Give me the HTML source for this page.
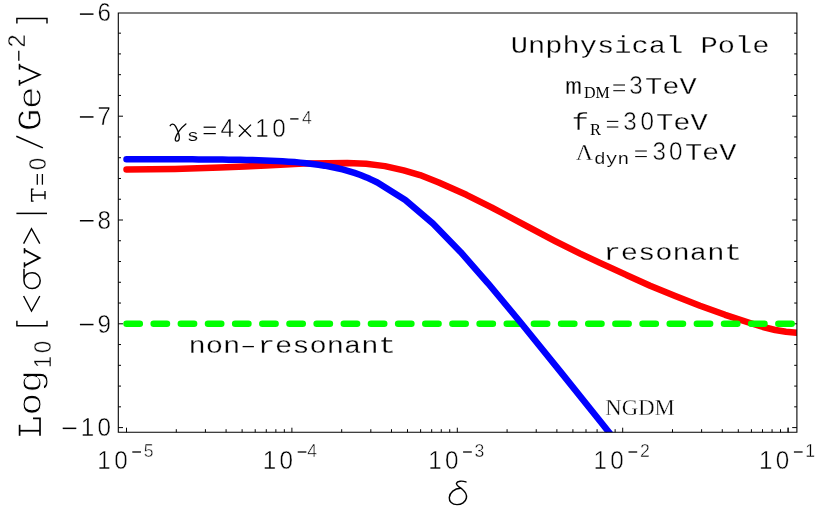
<!DOCTYPE html>
<html><head><meta charset="utf-8"><title>plot</title>
<style>html,body{margin:0;padding:0;background:#fff;overflow:hidden}svg{display:block}text{fill:#000}</style>
</head><body>
<svg width="830" height="513" viewBox="0 0 830 513">
<rect width="830" height="513" fill="#fff"/>
<g opacity="0.999">
<g stroke="#000" stroke-width="1.0" fill="none">
<path d="M118.30 33.16h2.70M796.90 33.16h-2.70M118.30 53.92h2.70M796.90 53.92h-2.70M118.30 74.68h2.70M796.90 74.68h-2.70M118.30 95.44h2.70M796.90 95.44h-2.70M118.30 116.20h4.70M796.90 116.20h-4.70M118.30 136.96h2.70M796.90 136.96h-2.70M118.30 157.72h2.70M796.90 157.72h-2.70M118.30 178.48h2.70M796.90 178.48h-2.70M118.30 199.24h2.70M796.90 199.24h-2.70M118.30 220.00h4.70M796.90 220.00h-4.70M118.30 240.76h2.70M796.90 240.76h-2.70M118.30 261.52h2.70M796.90 261.52h-2.70M118.30 282.28h2.70M796.90 282.28h-2.70M118.30 303.04h2.70M796.90 303.04h-2.70M118.30 323.80h4.70M796.90 323.80h-4.70M118.30 344.56h2.70M796.90 344.56h-2.70M118.30 365.32h2.70M796.90 365.32h-2.70M118.30 386.08h2.70M796.90 386.08h-2.70M118.30 406.84h2.70M796.90 406.84h-2.70M118.30 427.60h4.70M796.90 427.60h-4.70M126.50 432.30v-4.60M176.29 432.30v-3.10M205.42 432.30v-3.10M226.08 432.30v-3.10M242.11 432.30v-3.10M255.21 432.30v-3.10M266.28 432.30v-3.10M275.87 432.30v-3.10M284.33 432.30v-3.10M291.90 432.30v-4.60M341.69 432.30v-3.10M370.82 432.30v-3.10M391.48 432.30v-3.10M407.51 432.30v-3.10M420.61 432.30v-3.10M431.68 432.30v-3.10M441.27 432.30v-3.10M449.73 432.30v-3.10M457.30 432.30v-4.60M507.09 432.30v-3.10M536.22 432.30v-3.10M556.88 432.30v-3.10M572.91 432.30v-3.10M586.01 432.30v-3.10M597.08 432.30v-3.10M606.67 432.30v-3.10M615.13 432.30v-3.10M622.70 432.30v-4.60M672.49 432.30v-3.10M701.62 432.30v-3.10M722.28 432.30v-3.10M738.31 432.30v-3.10M751.41 432.30v-3.10M762.48 432.30v-3.10M772.07 432.30v-3.10M780.53 432.30v-3.10M788.10 432.30v-4.60M837.89 432.30v-3.10M867.02 432.30v-3.10M887.68 432.30v-3.10M903.71 432.30v-3.10M916.81 432.30v-3.10M927.88 432.30v-3.10M937.47 432.30v-3.10M945.93 432.30v-3.10M788.10 432.30v-4.6"/>
</g>
<clipPath id="cp"><rect x="118.30" y="13.00" width="678.60" height="419.30"/></clipPath>
<g clip-path="url(#cp)" fill="none" stroke-linecap="round" stroke-linejoin="round" stroke-width="6.5">
<polyline stroke="#f00" points="126.50,169.40 175.00,168.95 220.00,167.60 245.00,166.45 266.00,165.40 285.00,164.40 303.70,163.60 328.50,163.15 347.30,163.05 366.10,163.70 384.90,166.10 403.70,170.40 420.00,175.10 438.80,182.56 466.40,194.80 491.50,207.30 505.00,214.50 530.10,227.90 555.10,241.05 580.20,253.60 600.00,262.90 625.10,274.40 650.10,285.70 675.20,296.05 700.00,305.70 725.10,314.80 750.10,323.00 763.00,327.00 775.20,330.00 786.00,331.70 796.50,332.80 803.00,333.40"/>
<path stroke="#0f0" stroke-dasharray="13.3 13.86" d="M126.50 323.70 H796.90"/>
<polyline stroke="#00f" points="126.50,159.20 132.50,159.21 138.50,159.21 144.50,159.22 150.50,159.23 156.50,159.24 162.50,159.25 168.50,159.26 174.50,159.28 180.50,159.30 186.50,159.32 192.50,159.35 198.50,159.38 204.50,159.42 210.50,159.46 216.50,159.52 222.50,159.58 228.50,159.65 234.50,159.74 240.50,159.84 246.50,159.96 252.50,160.10 258.50,160.27 264.50,160.47 270.50,160.70 276.50,160.97 282.50,161.29 288.50,161.67 294.50,162.10 300.50,162.62 306.50,163.22 312.50,163.91 318.50,164.73 324.50,165.67 330.50,166.75 336.50,168.00 342.50,169.44 348.50,171.08 354.50,172.94 360.50,175.05 366.50,177.42 377.40,182.44 405.30,199.92 432.90,223.53 460.50,251.96 488.00,283.29 520.00,321.72 560.00,371.10 600.00,421.03 640.00,471.14"/>
</g>
<path stroke="#000" stroke-width="1.1" fill="none" d="M118.30 13.00 V432.30 H796.90 V13.00 Z"/>
<text transform="translate(104.30,21.15) scale(0.970,1.000)" font-family="'Liberation Sans', sans-serif" font-size="25.00" text-anchor="middle" stroke="#fff" stroke-width="0.45">6</text>
<path stroke="#000" stroke-width="1.50" fill="none" d="M79.90 14.10H93.50"/>
<text transform="translate(104.30,124.95) scale(0.970,1.000)" font-family="'Liberation Sans', sans-serif" font-size="25.00" text-anchor="middle" stroke="#fff" stroke-width="0.45">7</text>
<path stroke="#000" stroke-width="1.50" fill="none" d="M79.90 116.95H93.50"/>
<text transform="translate(104.30,228.75) scale(0.970,1.000)" font-family="'Liberation Sans', sans-serif" font-size="25.00" text-anchor="middle" stroke="#fff" stroke-width="0.45">8</text>
<path stroke="#000" stroke-width="1.50" fill="none" d="M79.90 220.75H93.50"/>
<text transform="translate(104.30,332.55) scale(0.970,1.000)" font-family="'Liberation Sans', sans-serif" font-size="25.00" text-anchor="middle" stroke="#fff" stroke-width="0.45">9</text>
<path stroke="#000" stroke-width="1.50" fill="none" d="M79.90 324.55H93.50"/>
<text transform="translate(104.30,436.35) scale(0.970,1.000)" font-family="'Liberation Sans', sans-serif" font-size="25.00" text-anchor="middle" stroke="#fff" stroke-width="0.45">0</text>
<text transform="translate(87.60,436.35) scale(0.970,1.000)" font-family="'Liberation Sans', sans-serif" font-size="25.00" text-anchor="middle" stroke="#fff" stroke-width="0.45">1</text>
<path stroke="#000" stroke-width="1.50" fill="none" d="M62.70 428.35H76.30"/>
<text transform="translate(104.10,468.80) scale(0.970,1.000)" font-family="'Liberation Sans', sans-serif" font-size="25.00" text-anchor="middle" stroke="#fff" stroke-width="0.45">1</text>
<text transform="translate(120.90,468.80) scale(0.970,1.000)" font-family="'Liberation Sans', sans-serif" font-size="25.00" text-anchor="middle" stroke="#fff" stroke-width="0.45">0</text>
<path stroke="#000" stroke-width="1.30" fill="none" d="M132.30 452.00H141.00"/>
<text transform="translate(148.60,457.20) scale(0.970,1.000)" font-family="'Liberation Sans', sans-serif" font-size="18.20" text-anchor="middle" stroke="#fff" stroke-width="0.45">5</text>
<text transform="translate(269.50,468.80) scale(0.970,1.000)" font-family="'Liberation Sans', sans-serif" font-size="25.00" text-anchor="middle" stroke="#fff" stroke-width="0.45">1</text>
<text transform="translate(286.30,468.80) scale(0.970,1.000)" font-family="'Liberation Sans', sans-serif" font-size="25.00" text-anchor="middle" stroke="#fff" stroke-width="0.45">0</text>
<path stroke="#000" stroke-width="1.30" fill="none" d="M297.70 452.00H306.40"/>
<text transform="translate(312.10,457.20) scale(0.970,1.000)" font-family="'Liberation Sans', sans-serif" font-size="18.20" text-anchor="middle" stroke="#fff" stroke-width="0.45">4</text>
<text transform="translate(434.90,468.80) scale(0.970,1.000)" font-family="'Liberation Sans', sans-serif" font-size="25.00" text-anchor="middle" stroke="#fff" stroke-width="0.45">1</text>
<text transform="translate(451.70,468.80) scale(0.970,1.000)" font-family="'Liberation Sans', sans-serif" font-size="25.00" text-anchor="middle" stroke="#fff" stroke-width="0.45">0</text>
<path stroke="#000" stroke-width="1.30" fill="none" d="M463.10 452.00H471.80"/>
<text transform="translate(479.40,457.20) scale(0.970,1.000)" font-family="'Liberation Sans', sans-serif" font-size="18.20" text-anchor="middle" stroke="#fff" stroke-width="0.45">3</text>
<text transform="translate(600.30,468.80) scale(0.970,1.000)" font-family="'Liberation Sans', sans-serif" font-size="25.00" text-anchor="middle" stroke="#fff" stroke-width="0.45">1</text>
<text transform="translate(617.10,468.80) scale(0.970,1.000)" font-family="'Liberation Sans', sans-serif" font-size="25.00" text-anchor="middle" stroke="#fff" stroke-width="0.45">0</text>
<path stroke="#000" stroke-width="1.30" fill="none" d="M628.50 452.00H637.20"/>
<text transform="translate(644.80,457.20) scale(0.970,1.000)" font-family="'Liberation Sans', sans-serif" font-size="18.20" text-anchor="middle" stroke="#fff" stroke-width="0.45">2</text>
<text transform="translate(765.70,468.80) scale(0.970,1.000)" font-family="'Liberation Sans', sans-serif" font-size="25.00" text-anchor="middle" stroke="#fff" stroke-width="0.45">1</text>
<text transform="translate(782.50,468.80) scale(0.970,1.000)" font-family="'Liberation Sans', sans-serif" font-size="25.00" text-anchor="middle" stroke="#fff" stroke-width="0.45">0</text>
<path stroke="#000" stroke-width="1.30" fill="none" d="M793.90 452.00H802.60"/>
<text transform="translate(810.20,457.20) scale(0.970,1.000)" font-family="'Liberation Sans', sans-serif" font-size="18.20" text-anchor="middle" stroke="#fff" stroke-width="0.45">1</text>
<path fill="none" stroke="#000" stroke-width="1.45" stroke-linecap="round" d="M465.9,481.9 C462,480.5 457.3,481.0 456.5,483.2 C455.8,485.2 459.5,487 462.5,489.5 C465.5,492 467,495 466.4,498 C465.6,502 461.5,504.6 457,504.6 C452,504.6 449,501.5 449.3,497.5 C449.7,492.5 454.5,488.6 460.4,488.3"/>
<text transform="translate(510.80,52.80) scale(1.000,0.840)" font-family="'Liberation Mono', monospace" font-size="28.75" text-anchor="start" stroke="#fff" stroke-width="0.30">Unphysical Pole</text>
<text transform="translate(188.55,352.80) scale(1.000,0.840)" font-family="'Liberation Mono', monospace" font-size="28.80" text-anchor="start" stroke="#fff" stroke-width="0.30">non resonant</text>
<path stroke="#000" stroke-width="1.30" fill="none" d="M242.60 346.60H253.90"/>
<text transform="translate(603.50,259.80) scale(1.000,0.840)" font-family="'Liberation Mono', monospace" font-size="28.80" text-anchor="start" stroke="#fff" stroke-width="0.30">resonant</text>
<text transform="translate(605.30,415.10) scale(0.948,1.000)" font-family="'Liberation Serif', serif" font-size="24.00" text-anchor="start" stroke="#fff" stroke-width="0.35">NGDM</text>
<path fill="none" stroke="#000" stroke-width="1.3" stroke-linecap="round" d="M170.2,125.7 C171.4,123.7 174.0,123.5 175.6,126.4 C177.6,130 179.3,134 179.3,137.6 C179.3,140.1 178.1,141.2 176.9,141.2 C175.4,141.2 174.8,139.7 175.6,137.6 C177.5,132.5 181.5,127.5 185.9,124.0"/>
<text transform="translate(192.80,141.40) scale(1.000,0.840)" font-family="'Liberation Mono', monospace" font-size="20.50" text-anchor="middle" stroke="#fff" stroke-width="0.15">s</text>
<path stroke="#000" stroke-width="1.25" fill="none" d="M203.60 127.20H215.80"/>
<path stroke="#000" stroke-width="1.25" fill="none" d="M203.60 133.60H215.80"/>
<text transform="translate(227.20,137.20) scale(0.970,1.000)" font-family="'Liberation Sans', sans-serif" font-size="25.00" text-anchor="middle" stroke="#fff" stroke-width="0.45">4</text>
<path fill="none" stroke="#000" stroke-width="1.3" d="M238.9,124.6L251.0,136.8M251.0,124.6L238.9,136.8"/>
<text transform="translate(262.00,137.20) scale(0.970,1.000)" font-family="'Liberation Sans', sans-serif" font-size="25.00" text-anchor="middle" stroke="#fff" stroke-width="0.45">1</text>
<text transform="translate(279.00,137.20) scale(0.970,1.000)" font-family="'Liberation Sans', sans-serif" font-size="25.00" text-anchor="middle" stroke="#fff" stroke-width="0.45">0</text>
<path stroke="#000" stroke-width="1.30" fill="none" d="M290.20 118.90H298.50"/>
<text transform="translate(307.00,123.90) scale(0.970,1.000)" font-family="'Liberation Sans', sans-serif" font-size="18.20" text-anchor="middle" stroke="#fff" stroke-width="0.45">4</text>
<text transform="translate(565.00,93.90) scale(1.000,0.840)" font-family="'Liberation Mono', monospace" font-size="28.60" text-anchor="start" stroke="#fff" stroke-width="0.30">m</text>
<text transform="translate(584.00,98.20)" font-family="'Liberation Serif', serif" font-size="16.00" text-anchor="start">DM</text>
<path stroke="#000" stroke-width="1.05" fill="none" d="M613.30 85.00H625.00"/>
<path stroke="#000" stroke-width="1.05" fill="none" d="M613.30 90.70H625.00"/>
<text transform="translate(635.90,93.90) scale(0.970,1.000)" font-family="'Liberation Sans', sans-serif" font-size="25.00" text-anchor="middle" stroke="#fff" stroke-width="0.45">3</text>
<text transform="translate(645.10,93.90) scale(1.000,0.840)" font-family="'Liberation Mono', monospace" font-size="28.70" text-anchor="start" stroke="#fff" stroke-width="0.30">TeV</text>
<text transform="translate(571.80,130.20) scale(1.000,0.840)" font-family="'Liberation Mono', monospace" font-size="28.60" text-anchor="start" stroke="#fff" stroke-width="0.30">f</text>
<text transform="translate(590.00,134.60)" font-family="'Liberation Serif', serif" font-size="16.50" text-anchor="start">R</text>
<path stroke="#000" stroke-width="1.05" fill="none" d="M606.90 121.37H618.30"/>
<path stroke="#000" stroke-width="1.05" fill="none" d="M606.90 127.02H618.30"/>
<text transform="translate(629.95,130.20) scale(0.970,1.000)" font-family="'Liberation Sans', sans-serif" font-size="25.00" text-anchor="middle" stroke="#fff" stroke-width="0.45">3</text>
<text transform="translate(647.35,130.20) scale(0.970,1.000)" font-family="'Liberation Sans', sans-serif" font-size="25.00" text-anchor="middle" stroke="#fff" stroke-width="0.45">0</text>
<text transform="translate(656.00,130.20) scale(1.000,0.840)" font-family="'Liberation Mono', monospace" font-size="28.70" text-anchor="start" stroke="#fff" stroke-width="0.30">TeV</text>
<text transform="translate(584.40,159.70)" font-family="'Liberation Serif', serif" font-size="24.00" text-anchor="middle" stroke="#fff" stroke-width="0.3">Λ</text>
<text transform="translate(594.00,164.40) scale(1.000,0.840)" font-family="'Liberation Mono', monospace" font-size="19.50" text-anchor="start" stroke="#fff" stroke-width="0.15">dyn</text>
<path stroke="#000" stroke-width="1.05" fill="none" d="M635.20 151.02H646.80"/>
<path stroke="#000" stroke-width="1.05" fill="none" d="M635.20 156.57H646.80"/>
<text transform="translate(659.25,159.70) scale(0.970,1.000)" font-family="'Liberation Sans', sans-serif" font-size="25.00" text-anchor="middle" stroke="#fff" stroke-width="0.45">3</text>
<text transform="translate(675.75,159.70) scale(0.970,1.000)" font-family="'Liberation Sans', sans-serif" font-size="25.00" text-anchor="middle" stroke="#fff" stroke-width="0.45">0</text>
<text transform="translate(684.90,159.70) scale(1.000,0.840)" font-family="'Liberation Mono', monospace" font-size="28.70" text-anchor="start" stroke="#fff" stroke-width="0.30">TeV</text>
<polyline fill="none" stroke="#000" stroke-width="1.70" stroke-linecap="butt" stroke-linejoin="miter" points="19.60,424.80 19.60,435.80"/>
<polyline fill="none" stroke="#000" stroke-width="1.80" stroke-linecap="butt" stroke-linejoin="miter" points="19.00,430.75 40.00,430.75"/>
<polyline fill="none" stroke="#000" stroke-width="1.70" stroke-linecap="butt" stroke-linejoin="miter" points="33.00,418.30 40.00,418.30 40.00,435.80"/>
<text transform="translate(40.90,404.10) rotate(-90) scale(1.000,0.860)" font-family="'Liberation Mono', monospace" font-size="38.50" text-anchor="middle" stroke="#fff" stroke-width="1.1">o</text>
<text transform="translate(40.90,381.40) rotate(-90) scale(1.000,0.860)" font-family="'Liberation Mono', monospace" font-size="38.50" text-anchor="middle" stroke="#fff" stroke-width="1.1">g</text>
<text transform="translate(51.10,362.00) rotate(-90) scale(0.880,1.000)" font-family="'Liberation Sans', sans-serif" font-size="24.60" text-anchor="middle" stroke="#fff" stroke-width="0.45">1</text>
<text transform="translate(51.10,347.10) rotate(-90) scale(0.880,1.000)" font-family="'Liberation Sans', sans-serif" font-size="24.60" text-anchor="middle" stroke="#fff" stroke-width="0.45">0</text>
<polyline fill="none" stroke="#000" stroke-width="1.45" stroke-linecap="butt" stroke-linejoin="miter" points="47.00,320.70 47.00,325.70 16.90,325.70 16.90,320.70"/>
<polyline fill="none" stroke="#000" stroke-width="1.40" stroke-linecap="butt" stroke-linejoin="miter" points="23.60,296.00 31.50,311.10 39.80,296.00"/>
<path transform="translate(40.6,289.3) rotate(-90)" fill="none" stroke="#000" stroke-width="1.5" stroke-linecap="butt" d="M20.6,-16.6 L8.6,-16.6 C3.6,-16.6 0.8,-12.8 0.8,-8.4 C0.8,-3.9 3.9,-0.4 8.6,-0.4 C13.3,-0.4 16.5,-3.9 16.5,-8.4 C16.5,-12.2 14.2,-15.5 10.6,-16.6"/>
<polyline fill="none" stroke="#000" stroke-width="1.80" stroke-linecap="butt" stroke-linejoin="miter" points="24.40,250.00 39.60,257.90 24.40,265.80"/>
<polyline fill="none" stroke="#000" stroke-width="1.60" stroke-linecap="butt" stroke-linejoin="miter" points="24.50,248.10 24.50,253.40"/>
<polyline fill="none" stroke="#000" stroke-width="1.60" stroke-linecap="butt" stroke-linejoin="miter" points="24.50,262.30 24.50,267.60"/>
<polyline fill="none" stroke="#000" stroke-width="1.40" stroke-linecap="butt" stroke-linejoin="miter" points="23.60,243.60 31.50,228.60 39.80,243.60"/>
<polyline fill="none" stroke="#000" stroke-width="1.50" stroke-linecap="butt" stroke-linejoin="miter" points="16.40,213.40 47.00,213.40"/>
<polyline fill="none" stroke="#000" stroke-width="1.35" stroke-linecap="butt" stroke-linejoin="miter" points="33.60,189.10 31.60,189.10 31.60,201.10 33.60,201.10"/>
<polyline fill="none" stroke="#000" stroke-width="1.45" stroke-linecap="butt" stroke-linejoin="miter" points="31.60,195.10 45.40,195.10"/>
<polyline fill="none" stroke="#000" stroke-width="1.35" stroke-linecap="butt" stroke-linejoin="miter" points="45.00,190.90 45.00,199.30"/>
<polyline fill="none" stroke="#000" stroke-width="1.30" stroke-linecap="butt" stroke-linejoin="miter" points="37.30,174.00 37.30,184.70"/>
<polyline fill="none" stroke="#000" stroke-width="1.30" stroke-linecap="butt" stroke-linejoin="miter" points="42.40,174.00 42.40,184.70"/>
<text transform="translate(46.10,163.90) rotate(-90) scale(0.880,1.000)" font-family="'Liberation Sans', sans-serif" font-size="24.60" text-anchor="middle" stroke="#fff" stroke-width="0.45">0</text>
<polyline fill="none" stroke="#000" stroke-width="1.50" stroke-linecap="butt" stroke-linejoin="miter" points="42.90,147.90 16.30,136.30"/>
<text transform="translate(40.90,120.00) rotate(-90) scale(1.000,0.920)" font-family="'Liberation Mono', monospace" font-size="38.50" text-anchor="middle" stroke="#fff" stroke-width="1.1">G</text>
<text transform="translate(40.90,97.60) rotate(-90) scale(1.000,0.860)" font-family="'Liberation Mono', monospace" font-size="38.50" text-anchor="middle" stroke="#fff" stroke-width="1.1">e</text>
<polyline fill="none" stroke="#000" stroke-width="1.80" stroke-linecap="butt" stroke-linejoin="miter" points="19.40,65.80 39.60,74.75 19.40,83.70"/>
<polyline fill="none" stroke="#000" stroke-width="1.60" stroke-linecap="butt" stroke-linejoin="miter" points="19.50,63.80 19.50,69.60"/>
<polyline fill="none" stroke="#000" stroke-width="1.60" stroke-linecap="butt" stroke-linejoin="miter" points="19.50,79.90 19.50,85.70"/>
<polyline fill="none" stroke="#000" stroke-width="1.30" stroke-linecap="butt" stroke-linejoin="miter" points="18.80,50.70 18.80,60.80"/>
<text transform="translate(25.00,41.00) rotate(-90)" font-family="'Liberation Sans', sans-serif" font-size="23.50" text-anchor="middle" stroke="#fff" stroke-width="0.45">2</text>
<polyline fill="none" stroke="#000" stroke-width="1.45" stroke-linecap="butt" stroke-linejoin="miter" points="47.00,23.50 47.00,18.50 16.90,18.50 16.90,23.50"/>
</g>
</svg>
</body></html>
